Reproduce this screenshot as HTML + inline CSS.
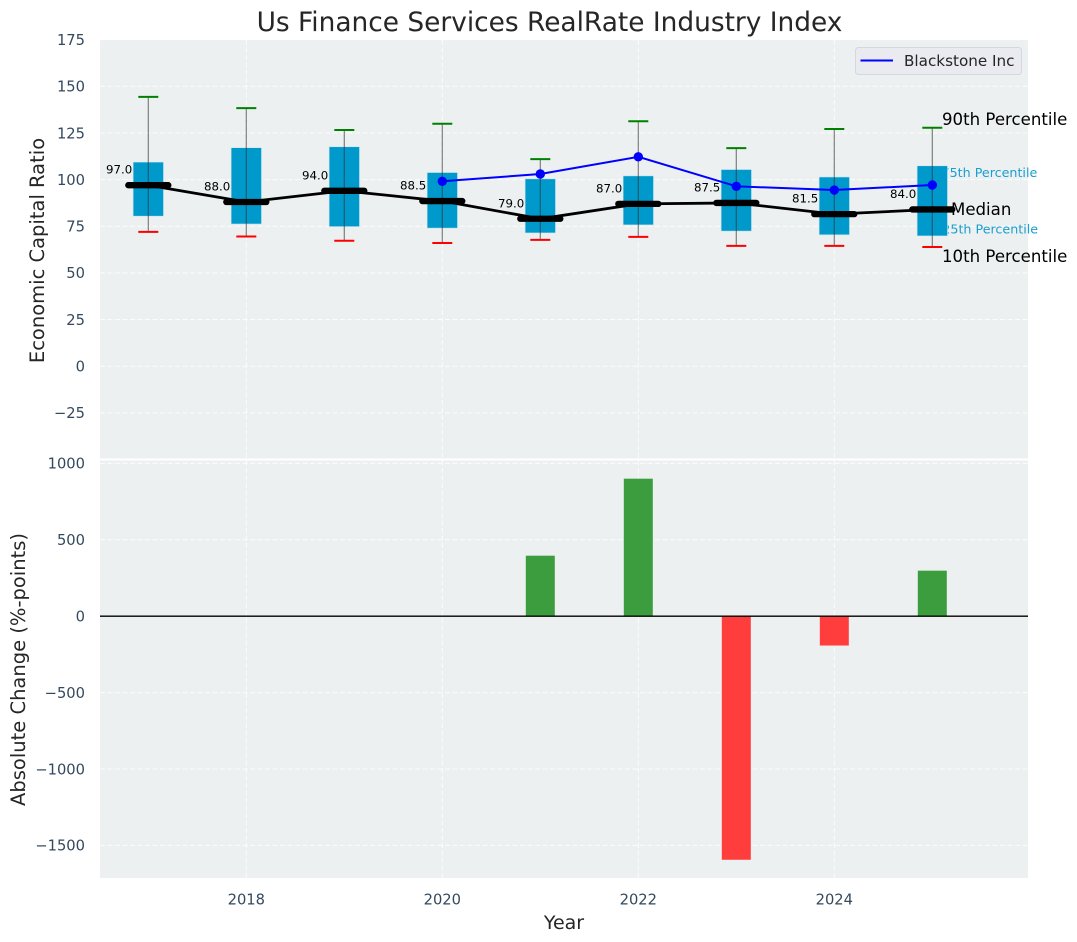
<!DOCTYPE html>
<html>
<head>
<meta charset="utf-8">
<title>Us Finance Services RealRate Industry Index</title>
<style>
html,body{margin:0;padding:0;background:#fff;}
svg{display:block;font-family:"DejaVu Sans","Liberation Sans",sans-serif;}
</style>
</head>
<body>
<svg id="chart" width="1077" height="942" viewBox="0 0 1077 942" xmlns="http://www.w3.org/2000/svg"></svg>
<script>
const years = [2017, 2018, 2019, 2020, 2021, 2022, 2023, 2024, 2025];
const p90 = [144.3, 138.3, 126.6, 129.9, 111, 131.3, 116.9, 127.1, 127.8];
const p75 = [109.4, 117.1, 117.6, 103.8, 100.4, 102, 105.4, 101.4, 107.4];
const medians = [97, 88, 94, 88.5, 79, 87, 87.5, 81.5, 84];
const p25 = [80.4, 76.2, 74.8, 74, 71.4, 75.7, 72.4, 70.4, 69.8];
const p10 = [72, 69.5, 67.2, 66, 67.7, 69.3, 64.5, 64.5, 63.9];
const companyYears = [2020, 2021, 2022, 2023, 2024, 2025];
const companyValues = [99.1, 103, 112.2, 96.4, 94.4, 97.1];
const changeYears = [2021, 2022, 2023, 2024, 2025];
const changeValues = [396, 900, -1594, -192, 298];
const topTicks = [175, 150, 125, 100, 75, 50, 25, 0, -25];
const bottomTicks = [1000, 500, 0, -500, -1000, -1500];
const yearTicks = [2018, 2020, 2022, 2024];

const svg = document.getElementById('chart');
const NS = 'http://www.w3.org/2000/svg';
const L = 100, R = 1028, T1 = 40, B1 = 458.5, T2 = 460.5, B2 = 878;
const TICK = '#34495e', INK = '#262626';
const x = v => 246.3 + (v - 2018) * 98;
const yTop = v => 366.2 - v * 1.866;
const yBot = v => 616.2 - v * 0.1528;
const fmt = v => String(v).replace('-', '\u2212');

function make(tag, attrs, text) {
  const el = document.createElementNS(NS, tag);
  for (const k in attrs) el.setAttribute(k, attrs[k]);
  if (text !== undefined) el.textContent = text;
  svg.appendChild(el);
  return el;
}
function tag(el, name, interactable) {
  
  
  return el;
}

tag(make('rect', {x: L, y: T1, width: R - L, height: B1 - T1, fill: '#ecf0f1'}), 'top-plot-background');
tag(make('rect', {x: L, y: T2, width: R - L, height: B2 - T2, fill: '#ecf0f1'}), 'bottom-plot-background');

const dash = {stroke: '#ffffff', 'stroke-width': 1, 'stroke-dasharray': '5 2.5', opacity: 0.85};
topTicks.forEach(t => {
  const g = make('line', Object.assign({x1: L, x2: R, y1: yTop(t), y2: yTop(t)}, dash));
  tag(g, 'top-grid-line-' + t);
  const lbl = make('text', {x: 85, y: yTop(t) + 5.3, 'text-anchor': 'end', 'font-size': 14.7, fill: TICK}, fmt(t));
  tag(lbl, 'top-y-tick-label-' + t);
});
bottomTicks.forEach(t => {
  const g = make('line', Object.assign({x1: L, x2: R, y1: yBot(t), y2: yBot(t)}, dash));
  tag(g, 'bottom-grid-line-' + t);
  const lbl = make('text', {x: 85, y: yBot(t) + 5.3, 'text-anchor': 'end', 'font-size': 14.7, fill: TICK}, fmt(t));
  tag(lbl, 'bottom-y-tick-label-' + t);
});
yearTicks.forEach(t => {
  const g1 = make('line', Object.assign({x1: x(t), x2: x(t), y1: T1, y2: B1}, dash));
  tag(g1, 'top-x-grid-line-' + t);
  const g2 = make('line', Object.assign({x1: x(t), x2: x(t), y1: T2, y2: B2}, dash));
  tag(g2, 'bottom-x-grid-line-' + t);
  const lbl = make('text', {x: x(t), y: 904.5, 'text-anchor': 'middle', 'font-size': 14.7, fill: TICK}, String(t));
  tag(lbl, 'x-tick-label-' + t);
});

tag(make('text', {x: 549.5, y: 31, 'text-anchor': 'middle', 'font-size': 26.4, fill: INK}, 'Us Finance Services RealRate Industry Index'), 'chart-title');
tag(make('text', {x: 564, y: 929, 'text-anchor': 'middle', 'font-size': 19, fill: INK}, 'Year'), 'x-axis-title');
tag(make('text', {transform: 'translate(44,250.5) rotate(-90)', 'text-anchor': 'middle', 'font-size': 19.5, fill: INK}, 'Economic Capital Ratio'), 'top-y-axis-title');
tag(make('text', {transform: 'translate(25,669.5) rotate(-90)', 'text-anchor': 'middle', 'font-size': 19.5, fill: INK}, 'Absolute Change (%-points)'), 'bottom-y-axis-title');

const last = years.length - 1;
const lx = x(years[last]);
tag(make('text', {x: lx + 9.2, y: yTop(p75[last]) + 11, 'font-size': 12.7, fill: '#1a9fcf'}, '75th Percentile'), 'label-75th-percentile');
tag(make('text', {x: lx + 10, y: yTop(p25[last]) - 2.5, 'font-size': 12.7, fill: '#1a9fcf'}, '25th Percentile'), 'label-25th-percentile');

years.forEach((yr, i) => {
  const cx = x(yr);
  const box = make('rect', {x: cx - 15.2, y: yTop(p75[i]), width: 30.4, height: yTop(p25[i]) - yTop(p75[i]), fill: '#0099cc', stroke: '#cfe6ef', 'stroke-width': 0.6});
  tag(box, 'iqr-box-' + yr);
  const wh = make('line', {x1: cx, x2: cx, y1: yTop(p90[i]), y2: yTop(p10[i]), stroke: '#333333', 'stroke-width': 1.2, opacity: 0.6});
  tag(wh, 'whisker-' + yr);
  const capHi = make('line', {x1: cx - 10, x2: cx + 10, y1: yTop(p90[i]), y2: yTop(p90[i]), stroke: '#008000', 'stroke-width': 2});
  tag(capHi, 'p90-cap-' + yr);
  const capLo = make('line', {x1: cx - 10, x2: cx + 10, y1: yTop(p10[i]), y2: yTop(p10[i]), stroke: '#ff0000', 'stroke-width': 2});
  tag(capLo, 'p10-cap-' + yr);
});

const medianPoints = years.map((yr, i) => x(yr) + ',' + yTop(medians[i])).join(' ');
tag(make('polyline', {points: medianPoints, fill: 'none', stroke: '#000000', 'stroke-width': 2.8}), 'median-trend-line');

const companyPoints = companyYears.map((yr, i) => x(yr) + ',' + yTop(companyValues[i])).join(' ');
tag(make('polyline', {points: companyPoints, fill: 'none', stroke: '#0000ff', 'stroke-width': 2}), 'blackstone-line');
companyYears.forEach((yr, i) => {
  const pt = make('circle', {cx: x(yr), cy: yTop(companyValues[i]), r: 4.7, fill: '#0000ff'});
  tag(pt, 'blackstone-point-' + yr);
});

years.forEach((yr, i) => {
  const cx = x(yr), cy = yTop(medians[i]);
  const m = make('line', {x1: cx - 20, x2: cx + 20, y1: cy, y2: cy, stroke: '#000000', 'stroke-width': 6.3, 'stroke-linecap': 'round'});
  tag(m, 'median-bar-' + yr);
  const lbl = make('text', {x: cx - 16, y: cy - 11.5, 'text-anchor': 'end', 'font-size': 11.8, fill: '#000000'}, medians[i].toFixed(1));
  tag(lbl, 'median-value-' + yr);
});

tag(make('text', {x: 942, y: 125, 'font-size': 16.6, fill: '#000000'}, '90th Percentile'), 'label-90th-percentile');
tag(make('text', {x: 951, y: 215, 'font-size': 16.6, fill: '#000000'}, 'Median'), 'label-median');
tag(make('text', {x: 942, y: 262, 'font-size': 16.6, fill: '#000000'}, '10th Percentile'), 'label-10th-percentile');

changeYears.forEach((yr, i) => {
  const v = changeValues[i];
  const top = Math.min(yBot(v), yBot(0));
  const h = Math.abs(yBot(v) - yBot(0));
  const bar = make('rect', {x: x(yr) - 14.5, y: top, width: 29, height: h, fill: v >= 0 ? '#3c9d3e' : '#ff3d3d'});
  tag(bar, 'change-bar-' + yr);
});
tag(make('line', {x1: L, x2: R, y1: yBot(0), y2: yBot(0), stroke: '#000000', 'stroke-width': 1.4}), 'zero-line');

tag(make('rect', {x: 855.5, y: 47.5, width: 166, height: 27, rx: 3, fill: '#e9ebf0', stroke: '#d4d7db', 'stroke-width': 1}), 'legend-box');
tag(make('line', {x1: 860.5, x2: 893, y1: 60.5, y2: 60.5, stroke: '#0000ff', 'stroke-width': 2}), 'legend-line-blackstone');
tag(make('text', {x: 904, y: 66, 'font-size': 15.2, fill: INK}, 'Blackstone Inc'), 'legend-label-blackstone');
</script>
</body>
</html>
